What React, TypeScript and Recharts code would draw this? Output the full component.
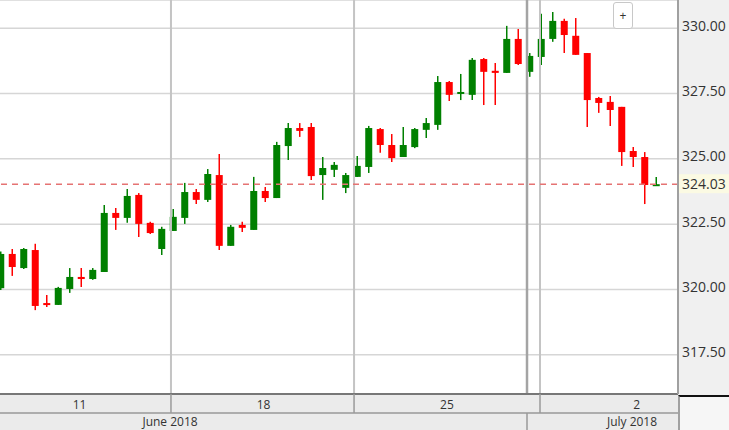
import React from 'react';
import { ComposedChart, Bar, XAxis, YAxis, CartesianGrid, ReferenceLine } from 'recharts';

// candle values, one per slot
const opens = [
  320.05, 321.36, 320.82, 321.51, 319.48, 319.41, 320.02, 320.48, 320.40, 320.67,
  322.93, 322.74, 323.62, 322.55, 321.55, 322.24, 322.74, 323.73, 323.43, 324.38,
  321.67, 322.47, 322.28, 323.77, 323.50, 325.49, 326.18, 326.22, 324.38, 324.58,
  323.89, 324.31, 324.69, 326.14, 325.53, 325.07, 325.45, 326.11, 326.30, 327.94,
  327.49, 327.45, 328.82, 328.37, 328.29, 329.59, 328.33, 328.90, 329.59, 330.28,
  329.71, 329.05, 327.33, 327.18, 326.99, 325.30, 325.07, 324.02,
];
const highs = [
  321.45, 321.55, 321.59, 321.75, 319.79, 320.10, 320.82, 320.82, 320.82, 323.23,
  323.12, 323.85, 323.69, 322.59, 322.40, 323.08, 324.08, 323.85, 324.61, 325.19,
  322.47, 322.59, 324.31, 323.92, 325.65, 326.37, 326.37, 326.37, 325.07, 324.88,
  324.46, 325.11, 326.26, 326.18, 325.95, 326.22, 326.18, 326.56, 328.17, 327.98,
  328.25, 328.86, 328.86, 328.67, 330.09, 329.97, 329.05, 330.55, 330.62, 330.36,
  330.39, 329.05, 327.37, 327.41, 326.99, 325.45, 325.26, 324.31,
];
const lows = [
  319.98, 320.52, 320.78, 319.21, 319.33, 319.41, 319.87, 320.10, 320.37, 320.67,
  322.28, 322.55, 322.01, 322.12, 321.32, 322.24, 322.51, 323.27, 323.35, 321.51,
  321.67, 322.20, 322.28, 323.35, 323.50, 324.96, 325.84, 324.19, 323.43, 324.31,
  323.69, 324.31, 324.46, 325.23, 324.88, 325.07, 325.41, 325.80, 326.11, 327.21,
  327.25, 327.25, 327.06, 327.06, 328.29, 328.59, 328.14, 328.59, 329.48, 329.05,
  328.98, 326.22, 326.76, 326.26, 324.73, 324.69, 323.27, 324.00,
];
const closes = [
  321.36, 320.86, 321.55, 319.37, 319.44, 320.06, 320.48, 320.40, 320.75, 322.93,
  322.74, 323.58, 322.51, 322.16, 322.32, 322.78, 323.73, 323.43, 324.42, 321.67,
  322.40, 322.36, 323.77, 323.50, 325.53, 326.18, 326.07, 324.34, 324.65, 324.77,
  324.38, 324.73, 326.18, 325.53, 325.03, 325.53, 326.14, 326.37, 327.94, 327.45,
  327.56, 328.79, 328.33, 328.29, 329.59, 328.63, 328.94, 329.59, 330.28, 329.74,
  328.98, 327.25, 327.14, 326.87, 325.26, 325.07, 324.00, 324.03,
];

const lastPrice = 324.03;
const priceTicks = [317.5, 320, 322.5, 325, 327.5, 330];

// date axis, in slot units
const weekLabels = ['11', '18', '25', '2'];
const weekLabelSlots = [6.83, 22.83, 38.78, 55.28];
const weekBreakSlots = [14.78, 30.7, 46.87];
const monthLabels = ['June 2018', 'July 2018'];
const monthLabelSlots = [14.7, 54.87];
const monthBreakSlots = [45.74];

const data = opens.map((open, i) => ({
  slot: i,
  open,
  high: highs[i],
  low: lows[i],
  close: closes[i],
}));

const GREEN = '#008000';
const RED = '#ff0000';

const Candle = (props: any) => {
  const { x, y, width, height, payload } = props;
  const { open, close, high, low } = payload;
  const color = close >= open ? GREEN : RED;
  const top = Math.min(y, y + height);
  const h = Math.abs(height);
  const ratio = h / (high - low || 1);
  const yOf = (p: number) => top + (high - p) * ratio;
  const bodyTop = yOf(Math.max(open, close));
  const bodyBot = yOf(Math.min(open, close));
  const cx = x + width / 2;
  return (
    <g>
      <line x1={cx} x2={cx} y1={top} y2={top + h} stroke={color} strokeWidth={1.5} />
      <rect x={x} y={bodyTop} width={width} height={Math.max(bodyBot - bodyTop, 2)} fill={color} />
    </g>
  );
};

const makeDateTick = (labels: string[], slots: number[], rowHeight: number, baseline: number) =>
  (props: any) => {
    const { x, y, payload } = props;
    const k = slots.findIndex((s) => Math.abs(s - payload.value) < 1e-6);
    if (k < 0) {
      return <line x1={x} x2={x} y1={y} y2={y + rowHeight} stroke="#9a9a9a" strokeWidth={1.5} />;
    }
    return (
      <text x={x} y={y + baseline} textAnchor="middle" fontSize={12} fill="#333">
        {labels[k]}
      </text>
    );
  };

const PriceTick = (props: any) => {
  const { y, payload } = props;
  return (
    <text x={682} y={y + 2.5} fontSize={14} fill="#333">
      {payload.value.toFixed(2)}
    </text>
  );
};

const LastPriceLabel = (props: any) => {
  const { viewBox } = props;
  const right = viewBox.x + viewBox.width;
  return (
    <g>
      <rect x={right + 1} y={viewBox.y - 10} width={50} height={19} fill="#fbfae3" />
      <text x={right + 4} y={viewBox.y + 4.5} fontSize={14} fill="#333">
        {lastPrice.toFixed(2)}
      </text>
    </g>
  );
};

const domainX: [number, number] = [-0.087, 58.87];

export default function App() {
  return (
    <div style={{ position: 'relative', width: 729, height: 430, fontFamily: '"Open Sans", sans-serif' }}>
      <style>{'body{margin:0}'}</style>
      <div style={{ position: 'absolute', left: 679, top: 0, width: 50, height: 396, background: '#f0f0f0' }} />
      <div style={{ position: 'absolute', left: 0, top: 394, width: 679, height: 36, background: '#ebebeb' }} />
      <div
        style={{
          position: 'absolute', left: 678, top: 395, width: 51, height: 35,
          background: '#f6f6f6', borderTop: '2px solid #111', borderLeft: '2px solid #a0a0a0', boxSizing: 'border-box',
        }}
      />
      <div style={{ position: 'absolute', left: 0, top: 0 }}>
        <ComposedChart width={729} height={430} data={data} margin={{ top: 0, right: 0, bottom: 0, left: 0 }}>
          <CartesianGrid vertical={false} stroke="#d6d6d6" strokeWidth={1.5} xAxisId="row1" />
          <XAxis
            xAxisId="row1"
            dataKey="slot"
            type="number"
            domain={domainX}
            allowDataOverflow
            ticks={[...weekBreakSlots, ...weekLabelSlots]}
            interval={0}
            tickSize={0}
            tickMargin={0}
            height={19}
            tickLine={false}
            axisLine={{ stroke: '#777', strokeWidth: 2 }}
            tick={makeDateTick(weekLabels, weekLabelSlots, 19, 15)}
          />
          <XAxis
            xAxisId="row2"
            dataKey="slot"
            type="number"
            domain={domainX}
            allowDataOverflow
            ticks={[...monthBreakSlots, ...monthLabelSlots]}
            interval={0}
            tickSize={0}
            tickMargin={0}
            height={17}
            tickLine={false}
            axisLine={{ stroke: '#999', strokeWidth: 1.5 }}
            tick={makeDateTick(monthLabels, monthLabelSlots, 17, 13)}
          />
          <YAxis
            orientation="right"
            width={51}
            type="number"
            domain={[316.0, 331.08]}
            allowDataOverflow
            ticks={priceTicks}
            interval={0}
            tickLine={false}
            axisLine={{ stroke: '#a0a0a0', strokeWidth: 2 }}
            tick={<PriceTick />}
          />
          {weekBreakSlots.map((s) => (
            <ReferenceLine key={s} xAxisId="row1" x={s} stroke="#c4c4c4" strokeWidth={2} />
          ))}
          {monthBreakSlots.map((s) => (
            <ReferenceLine key={s} xAxisId="row2" x={s} stroke="#a4a4a4" strokeWidth={2.5} />
          ))}
          <ReferenceLine
            xAxisId="row1"
            y={lastPrice}
            stroke="#e57373"
            strokeWidth={1.5}
            strokeDasharray="6 5"
            label={<LastPriceLabel />}
          />
          <Bar
            xAxisId="row1"
            dataKey={(d: any) => [d.low, d.high]}
            barSize={7}
            shape={<Candle />}
            isAnimationActive={false}
          />
        </ComposedChart>
      </div>
      <div
        style={{
          position: 'absolute', left: 613, top: 2, width: 20, height: 27, boxSizing: 'border-box',
          border: '1px solid #c8c8c8', borderRadius: 3, background: '#fff', color: '#333',
          fontSize: 12, lineHeight: '25px', textAlign: 'center',
        }}
      >
        +
      </div>
    </div>
  );
}
